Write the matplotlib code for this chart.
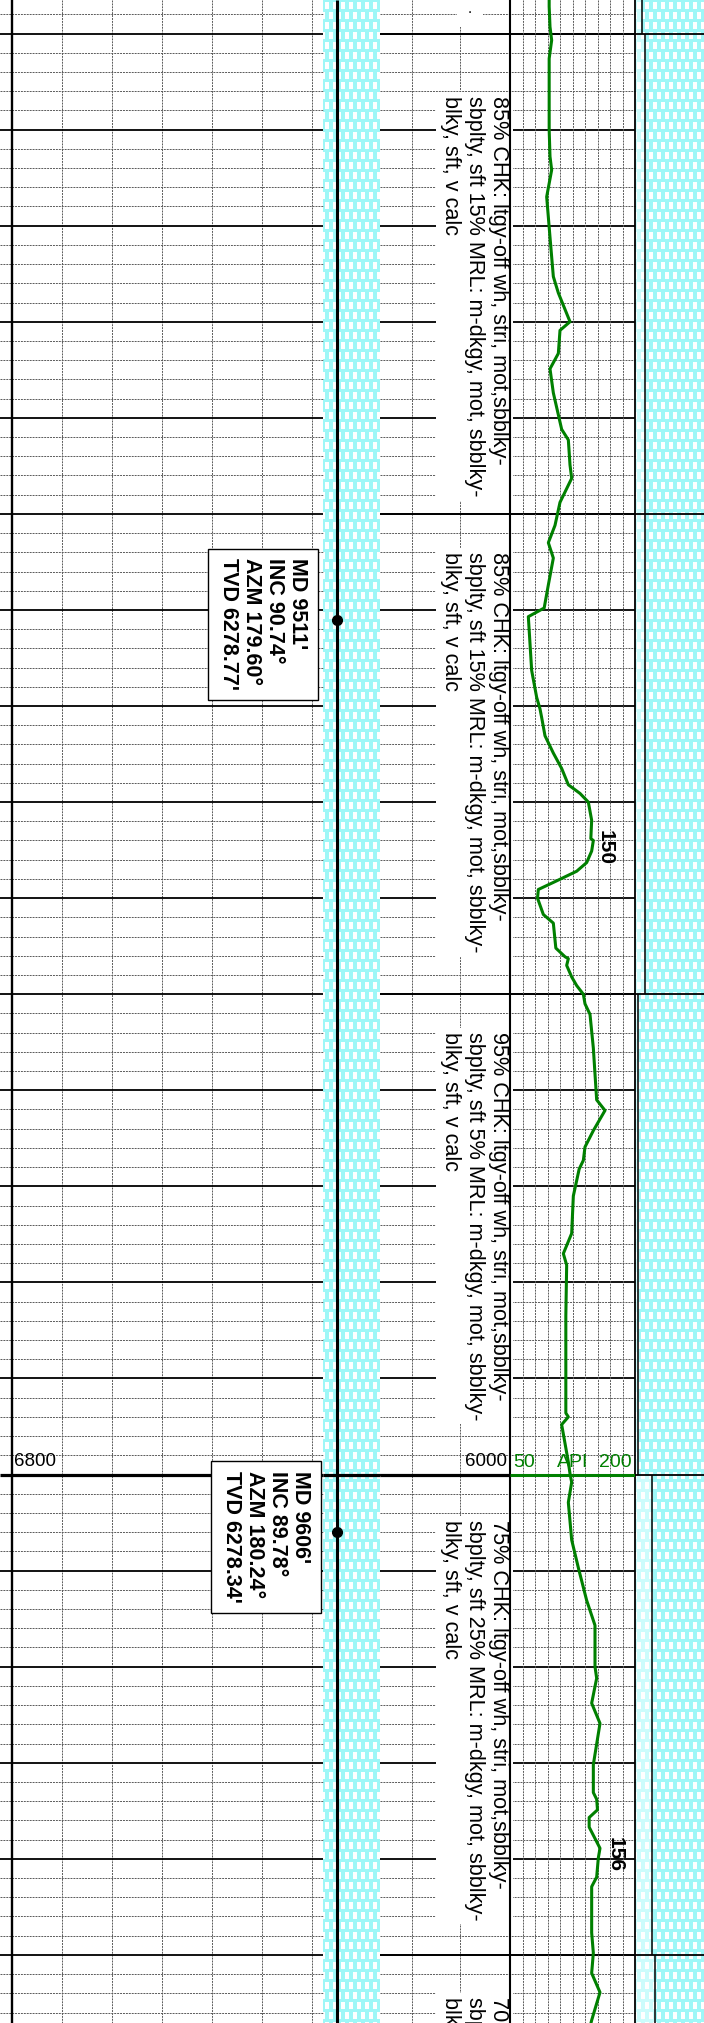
import numpy as np
import matplotlib.pyplot as plt

plt.rcParams['font.family'] = ['Liberation Sans', 'DejaVu Sans']

W, H = 704, 2023
MD_TOP = 9446.51
MD_BOT = 9657.09

# lithology intervals
lith_top = [9440, 9450, 9500, 9550, 9600, 9650]
lith_base = [9450, 9500, 9550, 9600, 9650, 9700]
chalk_pct = [90, 85, 85, 95, 75, 70]
marl_pct = [10, 15, 15, 5, 25, 30]

desc_top = [9456.5, 9504.0, 9553.9, 9604.7, 9654.4]
descriptions = [
    "85% CHK: ltgy-off wh, stri, mot,sbblky-\nsbplty, sft 15% MRL: m-dkgy, mot, sbblky-\nblky, sft, v calc",
    "85% CHK: ltgy-off wh, stri, mot,sbblky-\nsbplty, sft 15% MRL: m-dkgy, mot, sbblky-\nblky, sft, v calc",
    "95% CHK: ltgy-off wh, stri, mot,sbblky-\nsbplty, sft 5% MRL: m-dkgy, mot, sbblky-\nblky, sft, v calc",
    "75% CHK: ltgy-off wh, stri, mot,sbblky-\nsbplty, sft 25% MRL: m-dkgy, mot, sbblky-\nblky, sft, v calc",
    "70% CHK: ltgy-off wh, stri, mot,sbblky-\nsbplty, sft 30% MRL: m-dkgy, mot, sbblky-\nblky, sft, v calc",
]

# surveys
survey_md = [9511, 9606]
survey_inc = [90.74, 89.78]
survey_azm = [179.60, 180.24]
survey_tvd = [6278.77, 6278.34]

# gamma ray (API)
gr_md = [9446.5, 9447.2, 9449.3, 9450.7, 9452.6, 9455.8, 9460.0, 9462.8, 9464.2, 9467.0,
         9471.2, 9475.3, 9477.0, 9480.0, 9480.9, 9483.3, 9484.9, 9487.4, 9491.2, 9492.3,
         9494.9, 9496.3, 9498.8, 9501.2, 9503.0, 9504.6, 9507.4, 9509.8, 9510.7, 9513.5,
         9516.3, 9519.1, 9520.3, 9521.2, 9523.1, 9524.9, 9526.5, 9528.2, 9529.1, 9530.0,
         9531.9, 9533.8, 9534.0, 9535.1, 9536.3, 9537.2, 9538.2, 9539.1, 9540.0, 9541.7,
         9542.6, 9545.2, 9546.1, 9546.3, 9547.0, 9548.2, 9549.1, 9550.0, 9551.0, 9552.1,
         9555.6, 9561.0, 9562.1, 9564.2, 9565.9, 9567.3, 9568.2, 9571.0, 9574.9, 9577.0,
         9578.2, 9583.5, 9591.0, 9593.6, 9594.0, 9594.8, 9598.7, 9599.9, 9600.8, 9602.9,
         9606.8, 9609.7, 9613.1, 9615.7, 9620.0, 9621.2, 9623.8, 9625.9, 9630.2, 9633.1,
         9633.8, 9634.9, 9635.7, 9636.7, 9638.9, 9639.9, 9641.9, 9642.9, 9647.7, 9649.8,
         9651.9, 9653.9, 9656.8, 9657.5]
gr_api = [97, 97, 98, 100, 97, 97, 97, 98, 100, 94,
          98, 102, 108, 122, 110, 108, 98, 102, 112, 120,
          122, 124, 110, 104, 96, 102, 96, 91, 72, 74,
          76, 82, 86, 88, 92, 102, 112, 120, 134, 144,
          148, 147, 150, 148, 142, 130, 106, 84, 83, 90,
          102, 105, 116, 120, 118, 124, 130, 138, 140, 146,
          150, 154, 164, 150, 140, 138, 133, 126, 124, 114,
          118, 117, 117, 117, 120, 112, 120, 122, 124, 120,
          124, 132, 142, 152, 152, 154, 148, 158, 150, 150,
          154, 155, 145, 145, 158, 156, 154, 148, 148, 150,
          148, 158, 148, 146]
gr_peaks = [(150, 9534.7, 164), (156, 9639.6, 176)]

GREEN = '#008000'
CYAN = (0.62, 0.97, 0.97)
PALE = (0.80, 0.99, 0.99)


def brick(h, w, base):
    img = np.ones((h, w, 3)) * np.array(base)
    for r0 in range(0, h, 10):
        off = 4 if (r0 // 10) % 2 else 0
        for c0 in range(off - 8, w, 8):
            img[r0 + 2:r0 + 9, max(c0 + 2, 0):max(c0 + 6, 0)] = 1.0
    return img


fig = plt.figure(figsize=(7.04, 20.23), dpi=100)
ax = fig.add_axes([0, 0, 1, 1])

# cyan chalk column next to the well path
ax.imshow(brick(H, 57, CYAN), extent=(323, 380, MD_BOT, MD_TOP),
          interpolation='nearest', aspect='auto', zorder=0)

# lithology percent column on the right
RX0, RW = 635, 68
rows_md = MD_TOP + (np.arange(H) + 0.5) / H * (MD_BOT - MD_TOP)
lith_img = brick(H, 69, CYAN)
pale_img = brick(H, 69, PALE)
idx = np.searchsorted(lith_base, rows_md, side='right')
marl_cols = np.array(marl_pct)[idx] / 100 * RW
mask = np.arange(69)[None, :] < marl_cols[:, None]
lith_img[mask] = pale_img[mask]
ax.imshow(lith_img, extent=(RX0, RX0 + 69, MD_BOT, MD_TOP),
          interpolation='nearest', aspect='auto', zorder=0)
for t, b, m in zip(lith_top, lith_base, marl_pct):
    ax.vlines(RX0 + m / 100 * RW, max(t, MD_TOP), min(b, MD_BOT), color='black', lw=1.1, zorder=2)

# grid
dash = dict(color='#5a5a5a', lw=0.7, linestyle=(0, (2, 1)), zorder=1)
minor = [d for d in np.arange(9448, 9658, 2) if d % 10 != 0]
major = [d for d in np.arange(9450, 9658, 10)]
ax.hlines(minor, 0, 323, **dash)
ax.hlines(minor, 380, 635, **dash)
ax.vlines([62, 112, 162, 212, 262, 312], MD_TOP, MD_BOT, **dash)
ax.vlines([412, 460], MD_TOP, MD_BOT, **dash)
for d in major:
    lw = 2.3 if d == 9600 else 1.3
    ax.hlines(d, 0, 323, color='black', lw=lw, zorder=2)
    ax.hlines(d, 380, 510, color='black', lw=lw, zorder=2)
    if d != 9600:
        ax.hlines(d, 510, 635, color='black', lw=1.3, zorder=2)
ax.hlines(9600, 323, 380, color='black', lw=2.3, zorder=2)
for t in lith_top:
    if t > MD_TOP:
        ax.hlines(t, 380, 704, color='black', lw=1.3, zorder=4)

ax.vlines(12, MD_TOP, MD_BOT, color='black', lw=1.7, zorder=2)
ax.vlines(510, MD_TOP, MD_BOT, color='black', lw=1.5, zorder=4)
ax.vlines(635, MD_TOP, MD_BOT, color='black', lw=1.3, zorder=4)

# lithology descriptions
ax.text(470, MD_TOP + 0.2, '.', fontsize=11, ha='center', va='top', zorder=3,
        bbox=dict(facecolor='white', edgecolor='none', pad=8))
for top, txt in zip(desc_top, descriptions):
    ax.text(509, top, txt, rotation=270, fontsize=15.6, ha='right', va='top',
            multialignment='left', linespacing=1.19, zorder=3, clip_on=True,
            bbox=dict(facecolor='white', edgecolor='none', pad=3))

# scale labels
ax.text(14, 9599.1, '6800', fontsize=13.5, ha='left', va='baseline', zorder=3)
ax.text(507, 9599.1, '6000', fontsize=13.5, ha='right', va='baseline', zorder=3)

# well path and surveys
ax.vlines(337, MD_TOP, MD_BOT, color='black', lw=2.2, zorder=5)
ax.plot([337] * len(survey_md), survey_md, 'o', color='black', ms=7, zorder=6)
box_x = [263, 266]
for bx, md, inc, azm, tvd in zip(box_x, survey_md, survey_inc, survey_azm, survey_tvd):
    label = f"MD {md}'\nINC {inc:.2f}°\nAZM {azm:.2f}°\nTVD {tvd:.2f}'"
    ax.text(bx, md + 0.5, label, rotation=270, fontsize=15.5, fontweight='bold',
            ha='center', va='center', multialignment='left', linespacing=1.12, zorder=7,
            bbox=dict(facecolor='white', edgecolor='black', lw=1, pad=7))

ax.set_xlim(0, W)
ax.set_ylim(MD_BOT, MD_TOP)
ax.axis('off')

# gamma ray track
gx = fig.add_axes([510 / W, 0, 125 / W, 1])
gx.patch.set_alpha(0)
gx.vlines(np.arange(65, 200, 15), MD_TOP, MD_BOT, **dash)
gx.hlines(9600, 50, 200, color=GREEN, lw=2.2, zorder=3)
gx.plot(gr_api, gr_md, color=GREEN, lw=2.2, zorder=4)
gx.text(54, 9599.2, '50', color=GREEN, fontsize=14, ha='left', va='baseline')
gx.text(125, 9599.2, 'API', color=GREEN, fontsize=14, ha='center', va='baseline')
gx.text(196, 9599.2, '200', color=GREEN, fontsize=14, ha='right', va='baseline')
for val, md, xpos in gr_peaks:
    gx.text(xpos, md, str(val), rotation=270, fontsize=15, fontweight='bold',
            ha='center', va='center', zorder=5)
gx.set_xlim(50, 200)
gx.set_ylim(MD_BOT, MD_TOP)
gx.axis('off')

fig.savefig('out.png', dpi=100)
